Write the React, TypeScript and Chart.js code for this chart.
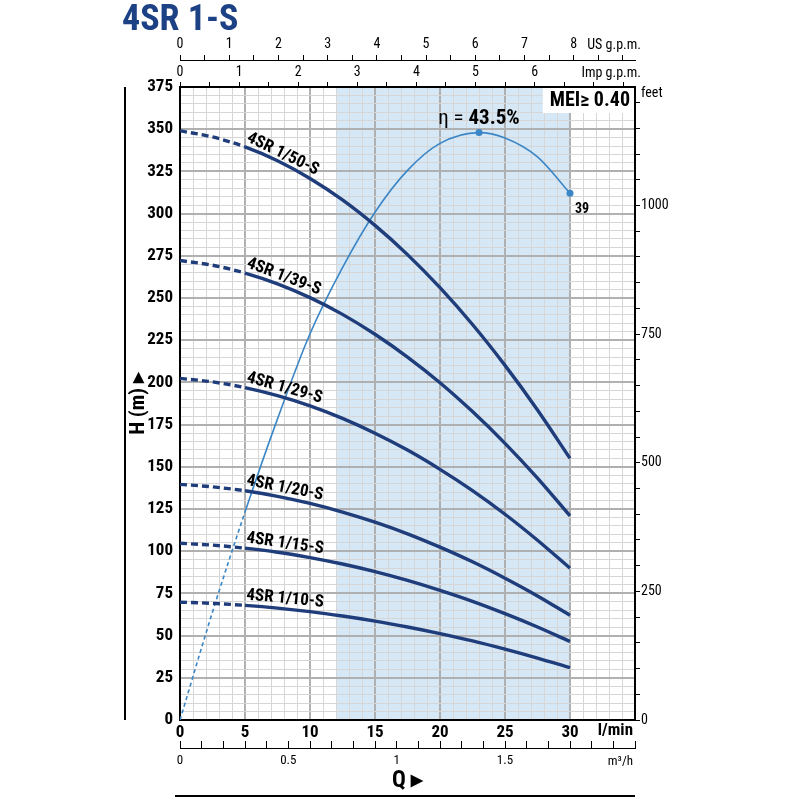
import { useEffect, useRef } from "react";
import { Chart, registerables } from "chart.js";
import type { Plugin } from "chart.js";

Chart.register(...registerables);

const FONT = "'Roboto Condensed', 'Open Sans Condensed', 'Liberation Sans Narrow', Roboto, sans-serif";
Chart.defaults.font.family = FONT;

// flow rate, l/min
const flow = [0, 2.5, 5, 7.5, 10, 12.5, 15, 17.5, 20, 22.5, 25, 27.5, 30];

// head, m
const head50 = [349, 345.4, 339.5, 331.3, 320.8, 308.1, 293, 275.7, 256.1, 234.3, 210.1, 183.7, 155];
const head39 = [272.2, 269.4, 264.8, 258.4, 250.2, 240.3, 228.5, 215.0, 199.8, 182.7, 163.9, 143.3, 120.9];
const head29 = [202.4, 200.3, 196.9, 192.1, 186.1, 178.7, 169.9, 159.9, 148.5, 135.9, 121.9, 106.5, 89.9];
const head20 = [139.6, 138.1, 135.8, 132.5, 128.3, 123.2, 117.2, 110.3, 102.4, 93.7, 84.0, 73.5, 62.0];
const head15 = [104.7, 103.6, 101.8, 99.4, 96.2, 92.4, 87.9, 82.7, 76.8, 70.3, 63.0, 55.1, 46.5];
const head10 = [69.8, 69.1, 67.9, 66.3, 64.2, 61.6, 58.6, 55.1, 51.2, 46.9, 42.0, 36.7, 31.0];
const curveNames = ["4SR 1/50-S", "4SR 1/39-S", "4SR 1/29-S", "4SR 1/20-S", "4SR 1/15-S", "4SR 1/10-S"];
const heads = [head50, head39, head29, head20, head15, head10];

// efficiency, %
const effFlow = [0, 2.5, 5, 7.5, 10, 12.5, 15, 17.5, 20, 23, 25, 27.5, 30];
const effValues = [0, 8.0, 15.4, 22.3, 28.6, 33.5, 37.6, 40.7, 42.7, 43.5, 43.1, 41.7, 39.0];

const dashedUpTo = 5; // curves are dashed below this flow
const bandFrom = 12;
const bandTo = 30;
const meiText = "MEI\u2265 0.40";

const NAVY = "#1f3c7b";
const ETA = "#3a86c6";
const BAND = "#d6e7f5";
const GRID_MINOR = "#d6d6d6";
const GRID_MAJOR = "#b0b0b0";

const peakIndex = effValues.indexOf(Math.max(...effValues));
const lastIndex = effValues.length - 1;

const extras: Plugin = {
  id: "extras",
  beforeDraw(chart) {
    const { ctx, chartArea: a, scales } = chart;
    const x0 = scales.x.getPixelForValue(bandFrom);
    const x1 = scales.x.getPixelForValue(bandTo);
    ctx.save();
    ctx.fillStyle = "#fff";
    ctx.fillRect(0, 0, chart.width, chart.height);
    ctx.fillStyle = BAND;
    ctx.fillRect(x0, a.top, x1 - x0, a.bottom - a.top);
    ctx.restore();
  },
  afterDatasetsDraw(chart) {
    const { ctx, chartArea: a } = chart;
    ctx.save();

    // curve names along the curves
    ctx.fillStyle = "#000";
    ctx.font = `bold 17px ${FONT}`;
    ctx.textAlign = "left";
    ctx.textBaseline = "alphabetic";
    heads.forEach((_, i) => {
      const pts = chart.getDatasetMeta(i).data;
      const p0 = pts[2];
      const p1 = pts[4];
      const ang = Math.atan2(p1.y - p0.y, p1.x - p0.x);
      ctx.save();
      ctx.translate(p0.x + 1, p0.y - 6);
      ctx.rotate(ang);
      ctx.fillText(curveNames[i], 0, 0);
      ctx.restore();
    });

    // efficiency labels
    const eff = chart.getDatasetMeta(heads.length).data;
    const pk = eff[peakIndex];
    ctx.font = `21px ${FONT}`;
    const partA = "\u03b7 = ";
    const wA = ctx.measureText(partA).width;
    ctx.font = `bold 21px ${FONT}`;
    const partB = `${effValues[peakIndex]}%`;
    const wB = ctx.measureText(partB).width;
    const sx = pk.x - (wA + wB) / 2;
    ctx.font = `21px ${FONT}`;
    ctx.fillText(partA, sx, pk.y - 9);
    ctx.font = `bold 21px ${FONT}`;
    ctx.fillText(partB, sx + wA, pk.y - 9);

    const end = eff[lastIndex];
    ctx.font = `bold 14px ${FONT}`;
    ctx.textBaseline = "middle";
    ctx.fillText(String(Math.round(effValues[lastIndex])), end.x + 5, end.y + 16);

    // MEI box
    ctx.font = `bold 20px ${FONT}`;
    const w = ctx.measureText(meiText).width;
    ctx.fillStyle = "#fff";
    ctx.fillRect(a.right - w - 12, a.top + 1, w + 11, 25);
    ctx.fillStyle = "#000";
    ctx.textAlign = "right";
    ctx.fillText(meiText, a.right - 5, a.top + 14);
    ctx.restore();
  },
  afterDraw(chart) {
    const { ctx, chartArea: a, scales } = chart;
    ctx.save();
    ctx.fillStyle = "#000";
    ctx.strokeStyle = "#000";
    ctx.textBaseline = "middle";

    ctx.font = `14px ${FONT}`;
    ctx.textAlign = "right";
    ctx.fillText("US g.p.m.", a.right + 6, scales.xUS.top + 10);
    ctx.fillText("Imp g.p.m.", a.right + 6, scales.xImp.top + 13);
    ctx.textAlign = "left";
    ctx.fillText("feet", a.right + 6, a.top + 6);

    ctx.font = `bold 17px ${FONT}`;
    ctx.textAlign = "right";
    ctx.fillText("l/min", a.right - 2, scales.x.top + 11);
    ctx.font = `13px ${FONT}`;
    ctx.fillText("m\u00b3/h", a.right - 2, scales.xM3.top + 14);

    ctx.lineWidth = 2;
    ctx.beginPath();
    ctx.moveTo(scales.y.left, a.top);
    ctx.lineTo(scales.y.left, a.bottom);
    ctx.moveTo(a.left - 5, scales.xM3.bottom - 4);
    ctx.lineTo(a.right, scales.xM3.bottom - 4);
    ctx.stroke();
    ctx.restore();
  },
};

const fixHeight = (h: number) => (scale: any) => {
  scale.height = h;
};
const fixWidth = (w: number) => (scale: any) => {
  scale.width = w;
};

export default function App() {
  const canvasRef = useRef<HTMLCanvasElement>(null);

  useEffect(() => {
    if (!canvasRef.current) return;

    const headSets = heads.map((h) => ({
      data: flow.map((x, i) => ({ x, y: h[i] })),
      borderColor: NAVY,
      borderWidth: 3.4,
      pointRadius: 0,
      cubicInterpolationMode: "monotone" as const,
      xAxisID: "x",
      yAxisID: "y",
      segment: {
        borderDash: (c: any) => (c.p1.parsed.x <= dashedUpTo ? [7, 4] : undefined),
      },
    }));

    const chart = new Chart(canvasRef.current, {
      type: "line",
      data: {
        datasets: [
          ...headSets,
          {
            data: effFlow.map((x, i) => ({ x, y: effValues[i] })),
            borderColor: ETA,
            backgroundColor: ETA,
            borderWidth: 1.6,
            pointRadius: (c: any) => (c.dataIndex === peakIndex || c.dataIndex === lastIndex ? 3.5 : 0),
            pointBorderWidth: 0,
            cubicInterpolationMode: "monotone" as const,
            xAxisID: "x",
            yAxisID: "yEta",
            segment: {
              borderDash: (c: any) => (c.p1.parsed.x <= dashedUpTo ? [4, 3] : undefined),
            },
          },
        ],
      },
      options: {
        responsive: false,
        animation: false,
        layout: { padding: { left: 125, top: 35, right: 0, bottom: 0 } },
        plugins: { legend: { display: false }, tooltip: { enabled: false } },
        scales: {
          x: {
            type: "linear",
            position: "bottom",
            min: 0,
            max: 35,
            weight: 0,
            afterFit: fixHeight(28),
            border: { display: true, color: "#000", width: 2 },
            grid: {
              drawTicks: false,
              color: (c: any) => (c.tick && c.tick.value % 5 === 0 ? GRID_MAJOR : GRID_MINOR),
              lineWidth: (c: any) => (c.tick && c.tick.value % 5 === 0 ? 2 : 1),
            },
            ticks: {
              stepSize: 1,
              autoSkip: false,
              maxRotation: 0,
              minRotation: 0,
              padding: 3,
              color: "#000",
              font: { size: 17, weight: "bold" },
              callback: (v: any) => (v % 5 === 0 && v <= 30 ? String(v) : ""),
            },
          },
          xM3: {
            type: "linear",
            position: "bottom",
            min: 0,
            max: 2.1,
            weight: 1,
            afterFit: fixHeight(52),
            border: { display: true, color: "#000", width: 1 },
            grid: { drawOnChartArea: false, drawTicks: true, tickLength: -7, color: "#000", lineWidth: 1 },
            ticks: {
              stepSize: 0.1,
              autoSkip: false,
              maxRotation: 0,
              minRotation: 0,
              includeBounds: false,
              padding: 12,
              color: "#000",
              font: { size: 13 },
              callback: (v: any) => {
                const n = Number(v);
                return Math.abs(n * 2 - Math.round(n * 2)) < 1e-6 && n < 1.8 ? String(Math.round(n * 10) / 10) : "";
              },
            },
            title: {
              display: true,
              text: "Q \u25b8",
              color: "#000",
              font: { size: 23, weight: "bold" },
              padding: { top: 0, bottom: 5 },
            },
          },
          xImp: {
            type: "linear",
            position: "top",
            min: 0,
            max: 35 / 4.54609,
            weight: 0,
            afterFit: fixHeight(27),
            border: { display: true, color: "#000", width: 2 },
            grid: { drawOnChartArea: false, drawTicks: true, tickLength: 5, color: "#000", lineWidth: 1 },
            ticks: {
              stepSize: 0.5,
              autoSkip: false,
              maxRotation: 0,
              minRotation: 0,
              includeBounds: false,
              padding: 1,
              color: "#000",
              font: { size: 14 },
              callback: (v: any) => (Number.isInteger(v) && v <= 6 ? String(v) : ""),
            },
          },
          xUS: {
            type: "linear",
            position: "top",
            min: 0,
            max: 35 / 3.78541,
            weight: 1,
            afterFit: fixHeight(25),
            border: { display: true, color: "#000", width: 1 },
            grid: { drawOnChartArea: false, drawTicks: true, tickLength: 5, color: "#000", lineWidth: 1 },
            ticks: {
              stepSize: 0.5,
              autoSkip: false,
              maxRotation: 0,
              minRotation: 0,
              includeBounds: false,
              padding: 2,
              color: "#000",
              font: { size: 14 },
              callback: (v: any) => (Number.isInteger(v) && v <= 8 ? String(v) : ""),
            },
          },
          y: {
            type: "linear",
            position: "left",
            min: 0,
            max: 375,
            afterFit: fixWidth(55),
            border: { display: true, color: "#000", width: 2 },
            grid: {
              drawTicks: false,
              color: (c: any) => (c.tick && c.tick.value % 25 === 0 ? GRID_MAJOR : GRID_MINOR),
              lineWidth: (c: any) => (c.tick && c.tick.value % 25 === 0 ? 2 : 1),
            },
            ticks: {
              stepSize: 5,
              autoSkip: false,
              padding: 7,
              color: "#000",
              font: { size: 17, weight: "bold" },
              callback: (v: any) => (v % 25 === 0 ? String(v) : ""),
            },
            title: {
              display: true,
              text: "H (m) \u25b8",
              color: "#000",
              font: { size: 21, weight: "bold" },
              padding: { top: 1, bottom: 0 },
            },
          },
          yFt: {
            type: "linear",
            position: "right",
            min: 0,
            max: 375 / 0.3048,
            afterFit: fixWidth(165),
            border: { display: true, color: "#000", width: 2 },
            grid: { drawOnChartArea: false, drawTicks: true, tickLength: 5, color: "#000", lineWidth: 1 },
            ticks: {
              stepSize: 50,
              autoSkip: false,
              includeBounds: false,
              padding: 1,
              color: "#000",
              font: { size: 14 },
              callback: (v: any) => (v % 250 === 0 && v <= 1000 ? String(v) : ""),
            },
          },
          yEta: {
            type: "linear",
            display: false,
            min: 0,
            max: 375 / 8,
          },
        },
      },
      plugins: [extras],
    });

    return () => {
      chart.destroy();
    };
  }, []);

  return (
    <div style={{ position: "absolute", left: 0, top: 0, width: 800, height: 800, background: "#fff" }}>
      <canvas ref={canvasRef} width={800} height={800} style={{ position: "absolute", left: 0, top: 0 }} />
      <div
        style={{
          position: "absolute",
          left: 122,
          top: -2,
          fontFamily: FONT,
          fontWeight: "bold",
          fontSize: 36,
          color: "#1d4185",
          lineHeight: "40px",
        }}
      >
        4SR 1-S
      </div>
    </div>
  );
}
